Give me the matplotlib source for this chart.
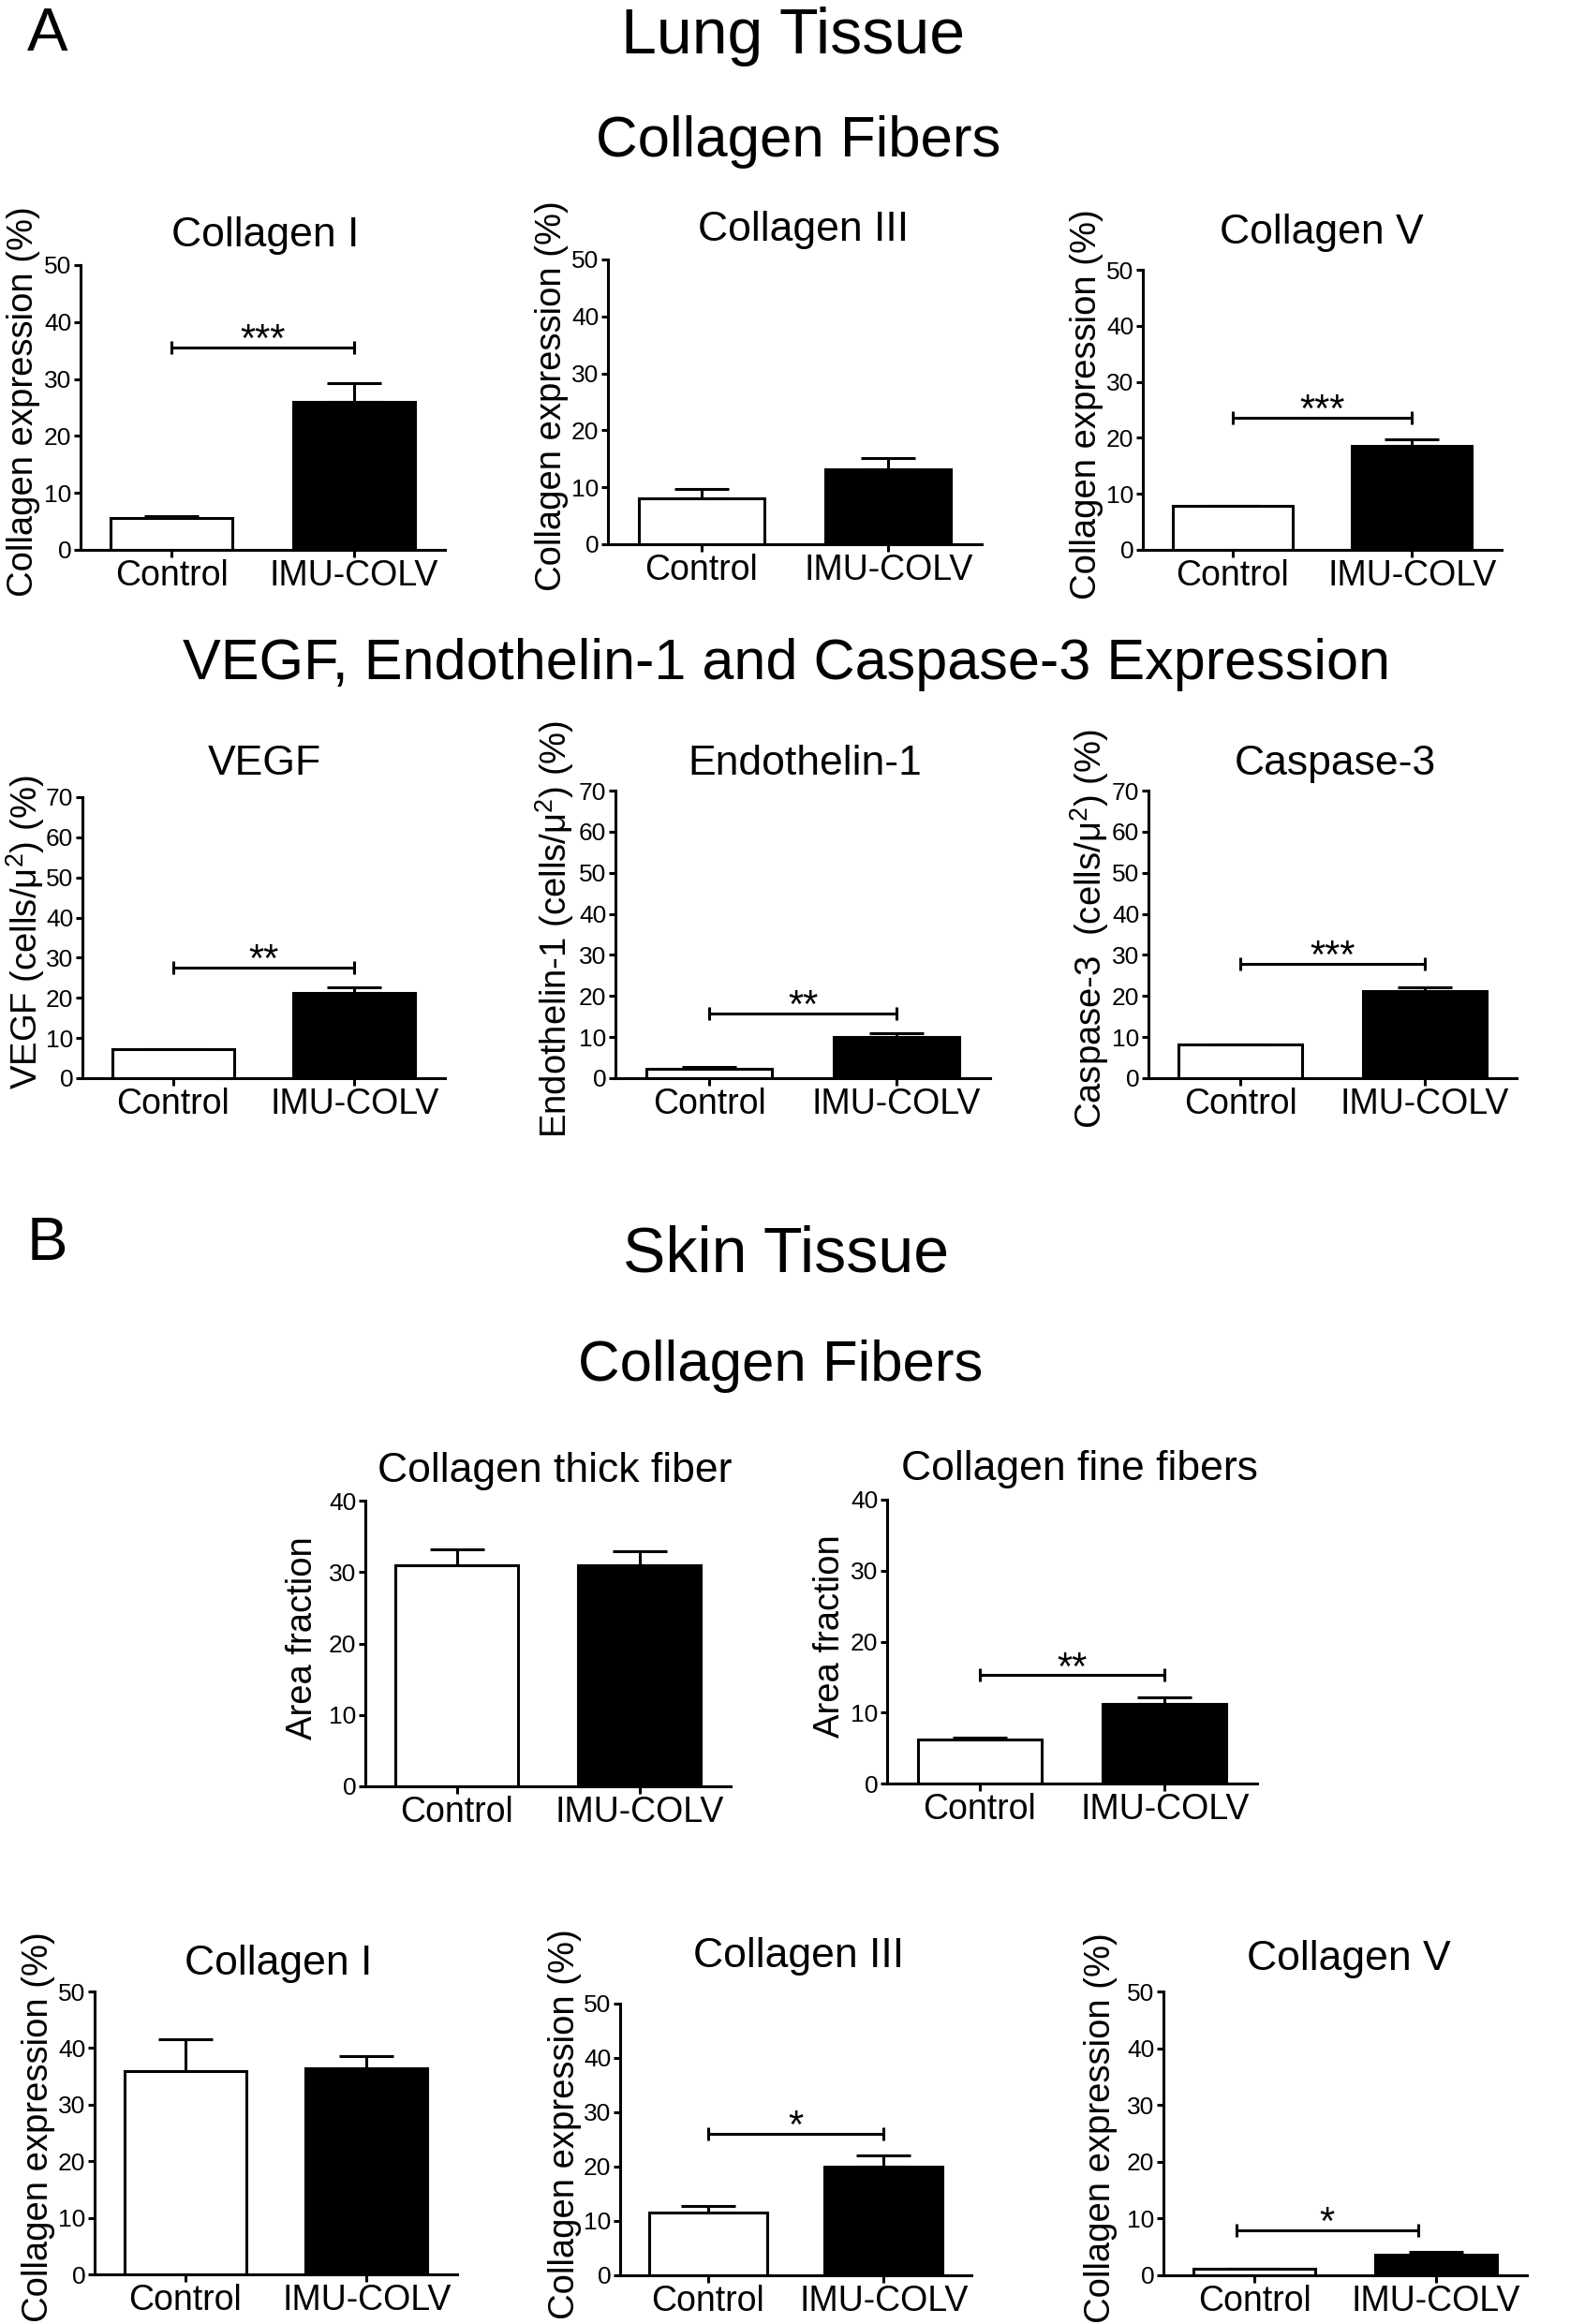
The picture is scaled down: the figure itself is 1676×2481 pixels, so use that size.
import matplotlib
matplotlib.use('Agg')
import matplotlib.pyplot as plt

plt.rcParams['font.family'] = ['Liberation Sans', 'DejaVu Sans']
plt.rcParams['mathtext.fontset'] = 'custom'
plt.rcParams['mathtext.rm'] = 'Liberation Sans'
plt.rcParams['mathtext.it'] = 'Liberation Sans:italic'
plt.rcParams['mathtext.bf'] = 'Liberation Sans:bold'

# ---------------- data ----------------
groups = ['Control', 'IMU-COLV']

lung_col1_mean = [5.6, 26.0]
lung_col1_sem = [0.4, 3.2]
lung_col3_mean = [8.0, 13.2]
lung_col3_sem = [1.7, 2.0]
lung_col5_mean = [7.8, 18.6]
lung_col5_sem = [0.0, 1.2]
lung_vegf_mean = [7.2, 21.2]
lung_vegf_sem = [0.0, 1.5]
lung_et1_mean = [2.3, 10.0]
lung_et1_sem = [0.55, 1.0]
lung_casp3_mean = [8.1, 21.2]
lung_casp3_sem = [0.0, 1.0]

skin_thick_mean = [30.9, 30.9]
skin_thick_sem = [2.3, 2.0]
skin_fine_mean = [6.15, 11.25]
skin_fine_sem = [0.3, 0.95]
skin_col1_mean = [36.0, 36.5]
skin_col1_sem = [5.5, 2.0]
skin_col3_mean = [11.5, 20.0]
skin_col3_sem = [1.3, 2.1]
skin_col5_mean = [1.1, 3.7]
skin_col5_sem = [0.0, 0.45]

# significance: (stars, bracket height)
lung_col1_sig = ('***', 35.6)
lung_col5_sig = ('***', 23.6)
lung_vegf_sig = ('**', 27.5)
lung_et1_sig = ('**', 15.75)
lung_casp3_sig = ('***', 27.9)
skin_fine_sig = ('**', 15.25)
skin_col3_sig = ('*', 26.0)
skin_col5_sig = ('*', 8.0)

# ---------------- figure ----------------
W, H = 1676, 2481
DPI = 100
fig = plt.figure(figsize=(W / DPI, H / DPI), dpi=DPI)
fig.patch.set_facecolor('white')

LW = 2.2
coll_lab = 'Collagen expression (%)'


def add_panel(rect, title, title_xy, ylabel, ylabel_x, means, sems, ymax,
              sig=None, sig_x=(0, 1), ylabel_dy=6):
    l, r, t, b = rect
    ax = fig.add_axes([l / W, 1 - b / H, (r - l) / W, (b - t) / H])
    x = [0, 1]
    ax.bar(x, means, width=0.67, color=['white', 'black'], edgecolor='black',
           linewidth=LW, zorder=2)
    ax.errorbar(x, means, yerr=[[0, 0], sems], fmt='none', ecolor='black',
                elinewidth=LW, capsize=21, capthick=LW, zorder=1)
    ax.set_xlim(-0.5, 1.5)
    ax.set_ylim(0, ymax)
    ax.set_yticks(list(range(0, ymax + 1, 10)))
    ax.set_xticks(x)
    ax.set_xticklabels(groups)
    for s in ('top', 'right'):
        ax.spines[s].set_visible(False)
    for s in ('left', 'bottom'):
        ax.spines[s].set_linewidth(LW)
    ax.tick_params(axis='y', labelsize=19, width=LW, length=5, pad=2)
    ax.tick_params(axis='x', labelsize=27, width=LW, length=6, pad=1)
    ax.set_ylabel(ylabel, fontsize=27.5, va='center')
    ax.yaxis.set_label_coords((ylabel_x - l) / (r - l), 0.5 + ylabel_dy / (b - t))
    tx, ty = title_xy
    ax.set_title(title, fontsize=32, x=(tx - l) / (r - l), y=(b - ty) / (b - t), pad=0)
    if sig is not None:
        stars, sy = sig
        x0, x1 = sig_x
        ax.plot([x0, x1], [sy, sy], color='black', lw=LW, marker='|',
                markersize=10, markeredgewidth=LW, solid_capstyle='butt', zorder=3)
        ax.annotate(stars, xy=((x0 + x1) / 2, sy), xytext=(0, -3),
                    textcoords='offset points', ha='center', va='baseline',
                    fontsize=30)
    return ax


# Lung tissue - collagen
add_panel((86, 475, 283, 587), 'Collagen I', (283, 263), coll_lab, 25,
          lung_col1_mean, lung_col1_sem, 50, lung_col1_sig)
add_panel((649, 1048, 277, 581), 'Collagen III', (858, 257), coll_lab, 589,
          lung_col3_mean, lung_col3_sem, 50)
add_panel((1220, 1603, 288, 587), 'Collagen V', (1411, 260), coll_lab, 1160,
          lung_col5_mean, lung_col5_sem, 50, lung_col5_sig)

# Lung tissue - VEGF etc.
add_panel((88, 475, 851, 1151), 'VEGF', (282, 827),
          r'VEGF (cells/μ$^{2}$) (%)', 27,
          lung_vegf_mean, lung_vegf_sem, 70, lung_vegf_sig)
add_panel((657, 1057, 844, 1151), 'Endothelin-1', (859, 827),
          r'Endothelin-1 (cells/μ$^{2}$) (%)', 592,
          lung_et1_mean, lung_et1_sem, 70, lung_et1_sig)
add_panel((1226, 1619, 844, 1151), 'Caspase-3', (1425, 827),
          r'Caspase-3  (cells/μ$^{2}$) (%)', 1163,
          lung_casp3_mean, lung_casp3_sem, 70, lung_casp3_sig)

# Skin tissue - fibers
add_panel((390, 780, 1602, 1907), 'Collagen thick fiber', (592, 1582),
          'Area fraction', 323, skin_thick_mean, skin_thick_sem, 40)
add_panel((947, 1342, 1601, 1904), 'Collagen fine fibers', (1152, 1580),
          'Area fraction', 886, skin_fine_mean, skin_fine_sem, 40, skin_fine_sig)

# Skin tissue - collagen
add_panel((101, 488, 2126, 2428), 'Collagen I', (297, 2108), coll_lab, 41,
          skin_col1_mean, skin_col1_sem, 50)
add_panel((662, 1037, 2139, 2429), 'Collagen III', (853, 2100), coll_lab, 603,
          skin_col3_mean, skin_col3_sem, 50, skin_col3_sig, ylabel_dy=16)
add_panel((1242, 1630, 2126, 2429), 'Collagen V', (1440, 2103), coll_lab, 1175,
          skin_col5_mean, skin_col5_sem, 50, skin_col5_sig, sig_x=(-0.1, 0.9))


def header(x, y, s, size):
    fig.text(x / W, 1 - y / H, s, ha='center', va='baseline', fontsize=size)


header(51, 54, 'A', 47)
header(847, 57, 'Lung Tissue', 49)
header(852, 167, 'Collagen Fibers', 44.5)
header(840, 725, 'VEGF, Endothelin-1 and Caspase-3 Expression', 44)
header(50, 1345, 'B', 47)
header(839, 1357, 'Skin Tissue', 49)
header(833, 1474, 'Collagen Fibers', 44.5)

fig.savefig('out.png', dpi=DPI, facecolor='white')
